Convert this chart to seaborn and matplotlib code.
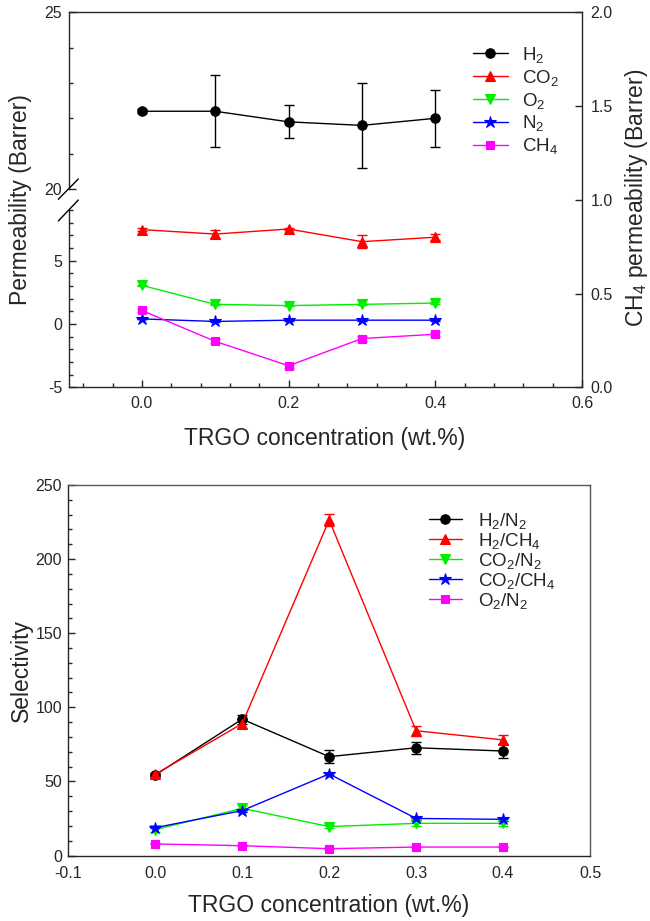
import matplotlib
matplotlib.use('Agg')
import matplotlib.pyplot as plt
import seaborn as sns
from matplotlib.ticker import MultipleLocator, FixedLocator
from matplotlib.lines import Line2D

# ---------------- data ----------------
x_trgo = [0.0, 0.1, 0.2, 0.3, 0.4]

perm_h2 = [22.2, 22.2, 21.9, 21.8, 22.0]
perm_h2_err = [0.05, 1.02, 0.47, 1.2, 0.8]
perm_co2 = [7.45, 7.1, 7.5, 6.5, 6.85]
perm_co2_err = [0.1, 0.3, 0.1, 0.5, 0.25]
perm_o2 = [3.05, 1.55, 1.45, 1.55, 1.65]
perm_o2_err = [0.05, 0.05, 0.05, 0.05, 0.05]
perm_n2 = [0.4, 0.2, 0.3, 0.3, 0.3]
perm_n2_err = [0.03, 0.03, 0.03, 0.03, 0.03]
perm_ch4 = [0.41, 0.245, 0.115, 0.26, 0.283]
perm_ch4_err = [0.01, 0.01, 0.01, 0.015, 0.01]

sel_h2_n2 = [54.3, 92.0, 66.7, 72.7, 70.5]
sel_h2_n2_err = [1.5, 3.0, 4.5, 4.0, 5.0]
sel_h2_ch4 = [54.8, 89.0, 226.4, 84.2, 78.0]
sel_h2_ch4_err = [1.0, 3.0, 4.0, 3.5, 3.0]
sel_co2_n2 = [17.5, 31.8, 19.5, 21.7, 21.7]
sel_co2_n2_err = [1.5, 2.5, 1.0, 1.5, 1.5]
sel_co2_ch4 = [18.8, 30.3, 55.0, 25.0, 24.4]
sel_co2_ch4_err = [0.5, 1.0, 1.0, 1.0, 1.0]
sel_o2_n2 = [7.8, 6.6, 4.6, 5.7, 5.7]
sel_o2_n2_err = [0.3, 0.3, 0.3, 0.3, 0.3]

perm_labels = ['H$_2$', 'CO$_2$', 'O$_2$', 'N$_2$', 'CH$_4$']
sel_labels = ['H$_2$/N$_2$', 'H$_2$/CH$_4$', 'CO$_2$/N$_2$', 'CO$_2$/CH$_4$', 'O$_2$/N$_2$']
colors = ['#000000', '#FF0000', '#00EE00', '#0000FF', '#FF00FF']
markers = ['o', '^', 'v', '*', 's']
msizes = [6.8, 6.8, 6.8, 9.0, 6.0]

# ---------------- style ----------------
sns.set_theme(style='ticks')
plt.rcParams['font.family'] = ['Liberation Sans', 'DejaVu Sans']
plt.rcParams['mathtext.default'] = 'regular'
plt.rcParams['axes.linewidth'] = 1.0

W, H = 650, 921
fig = plt.figure(figsize=(W / 100, H / 100), dpi=100)
fig.patch.set_facecolor('white')


def rect(l, t, r, b):
    return [l / W, 1 - b / H, (r - l) / W, (b - t) / H]


def fx(p):
    return p / W


def fy(p):
    return 1 - p / H


def draw(ax, y, err, i, label):
    ax.errorbar(x_trgo, y, yerr=err, fmt='none', ecolor=colors[i], elinewidth=1.0,
                capsize=3.5, capthick=1.0, zorder=2)
    sns.lineplot(x=x_trgo, y=y, ax=ax, color=colors[i], marker=markers[i],
                 markersize=msizes[i], markeredgecolor=colors[i], markeredgewidth=0.8,
                 linewidth=1.0, errorbar=None, legend=False, zorder=3)
    ln = ax.lines[-1]
    return ln


TICK_FS = 11.5
LABEL_FS = 16.5
LEG_FS = 13.5

# ---------------- top panel (broken axis) ----------------
L, R = 68.5, 582
ax_up = fig.add_axes(rect(L, 12.3, R, 189))
ax_lo = fig.add_axes(rect(L, 210, R, 387.3))
ax_r = fig.add_axes(rect(L, 12.3, R, 387.3))

for a in (ax_up, ax_lo, ax_r):
    a.set_xlim(-0.1, 0.6)
    a.grid(False)

ax_r.patch.set_visible(False)
ax_up.patch.set_visible(False)
ax_lo.patch.set_visible(False)

handles = []
handles.append(draw(ax_up, perm_h2, perm_h2_err, 0, perm_labels[0]))
handles.append(draw(ax_lo, perm_co2, perm_co2_err, 1, perm_labels[1]))
handles.append(draw(ax_lo, perm_o2, perm_o2_err, 2, perm_labels[2]))
handles.append(draw(ax_lo, perm_n2, perm_n2_err, 3, perm_labels[3]))
handles.append(draw(ax_r, perm_ch4, perm_ch4_err, 4, perm_labels[4]))

# upper part
ax_up.set_ylim(20, 25)
ax_up.spines['bottom'].set_visible(False)
ax_up.spines['right'].set_visible(False)
ax_up.spines['top'].set_visible(True)
ax_up.set_xticks([])
ax_up.yaxis.set_major_locator(FixedLocator([20, 25]))
ax_up.yaxis.set_minor_locator(MultipleLocator(1))
ax_up.set_yticklabels(['20', '25'])
ax_up.tick_params(axis='y', which='major', direction='in', length=5, width=1,
                  labelsize=TICK_FS, pad=4.5, left=True)
ax_up.tick_params(axis='y', which='minor', direction='in', length=3, width=1, left=True)
ax_up.set_xlabel('')
ax_up.set_ylabel('')

# lower part
ax_lo.set_ylim(-5, 9)
ax_lo.spines['top'].set_visible(False)
ax_lo.spines['right'].set_visible(False)
ax_lo.yaxis.set_major_locator(FixedLocator([-5, 0, 5]))
ax_lo.yaxis.set_minor_locator(MultipleLocator(1))
ax_lo.set_yticklabels(['-5', '0', '5'])
ax_lo.xaxis.set_major_locator(FixedLocator([0.0, 0.2, 0.4, 0.6]))
ax_lo.xaxis.set_minor_locator(MultipleLocator(0.04))
ax_lo.set_xticklabels(['0.0', '0.2', '0.4', '0.6'])
ax_lo.tick_params(axis='both', which='major', direction='in', length=5, width=1,
                  labelsize=TICK_FS, pad=6, left=True, bottom=True)
ax_lo.tick_params(axis='y', which='major', pad=4.5)
ax_lo.tick_params(axis='both', which='minor', direction='in', length=3, width=1,
                  left=True, bottom=True)
ax_lo.set_xlabel('')
ax_lo.set_ylabel('')

# right CH4 axis
ax_r.set_ylim(0, 2.0)
for s in ('left', 'top', 'bottom'):
    ax_r.spines[s].set_visible(False)
ax_r.xaxis.set_visible(False)
ax_r.yaxis.tick_right()
ax_r.yaxis.set_major_locator(FixedLocator([0.0, 0.5, 1.0, 1.5, 2.0]))
ax_r.set_yticklabels(['0.0', '0.5', '1.0', '1.5', '2.0'])
ax_r.tick_params(axis='y', which='major', direction='in', length=5, width=1,
                 labelsize=TICK_FS, pad=6, right=True, left=False)
ax_r.set_xlabel('')
ax_r.set_ylabel('')

# break marks on left spine
for (x0, y0, x1, y1) in [(58.3, 199.3, 78.3, 179.0), (58.3, 221.0, 78.3, 200.0)]:
    fig.add_artist(Line2D([fx(x0), fx(x1)], [fy(y0), fy(y1)], color='black',
                          linewidth=1.0, transform=fig.transFigure))

ax_up.legend(handles, perm_labels, loc='upper left', bbox_to_anchor=(fx(473), fy(45)),
             bbox_transform=fig.transFigure, frameon=False, fontsize=LEG_FS,
             handlelength=1.85, handletextpad=0.75, labelspacing=0.15, borderpad=0,
             borderaxespad=0)

fig.text(fx(21), fy(200), 'Permeability (Barrer)', rotation=90, ha='center', va='center',
         fontsize=LABEL_FS)
fig.text(fx(637), fy(198), 'CH$_4$ permeability (Barrer)', rotation=90, ha='center',
         va='center', fontsize=LABEL_FS)
fig.text(fx(325), fy(444.5), 'TRGO concentration (wt.%)', ha='center', va='baseline',
         fontsize=LABEL_FS)

# ---------------- bottom panel (selectivity) ----------------
ax_s = fig.add_axes(rect(68.3, 485, 590, 855.5))
sel_series = [(sel_h2_n2, sel_h2_n2_err), (sel_h2_ch4, sel_h2_ch4_err),
              (sel_co2_n2, sel_co2_n2_err), (sel_co2_ch4, sel_co2_ch4_err),
              (sel_o2_n2, sel_o2_n2_err)]
sel_handles = []
for i, (yv, ev) in enumerate(sel_series):
    sel_handles.append(draw(ax_s, yv, ev, i, sel_labels[i]))

ax_s.set_xlim(-0.1, 0.5)
ax_s.set_ylim(0, 250)
ax_s.grid(False)
ax_s.xaxis.set_major_locator(FixedLocator([-0.1, 0.0, 0.1, 0.2, 0.3, 0.4, 0.5]))
ax_s.set_xticklabels(['-0.1', '0.0', '0.1', '0.2', '0.3', '0.4', '0.5'])
ax_s.yaxis.set_major_locator(FixedLocator([0, 50, 100, 150, 200, 250]))
ax_s.yaxis.set_minor_locator(MultipleLocator(10))
ax_s.set_yticklabels(['0', '50', '100', '150', '200', '250'])
ax_s.tick_params(axis='x', which='major', length=0, labelsize=TICK_FS, pad=7.5, bottom=True)
ax_s.tick_params(axis='y', which='major', direction='in', length=5, width=1,
                 labelsize=TICK_FS, pad=4.5, left=True)
ax_s.tick_params(axis='y', which='minor', direction='in', length=3, width=1, left=True)
for s in ('top', 'right'):
    ax_s.spines[s].set_visible(True)
    ax_s.spines[s].set_color('#555555')
ax_s.set_xlabel('')
ax_s.set_ylabel('')

ax_s.legend(sel_handles, sel_labels, loc='upper left', bbox_to_anchor=(fx(429), fy(511)),
            bbox_transform=fig.transFigure, frameon=False, fontsize=LEG_FS,
            handlelength=1.75, handletextpad=0.85, labelspacing=0.0, borderpad=0,
            borderaxespad=0)

fig.text(fx(21), fy(670), 'Selectivity', rotation=90, ha='center', va='center',
         fontsize=LABEL_FS)
fig.text(fx(329), fy(911.7), 'TRGO concentration (wt.%)', ha='center', va='baseline',
         fontsize=LABEL_FS)

fig.savefig('out.png', dpi=100, facecolor='white')
